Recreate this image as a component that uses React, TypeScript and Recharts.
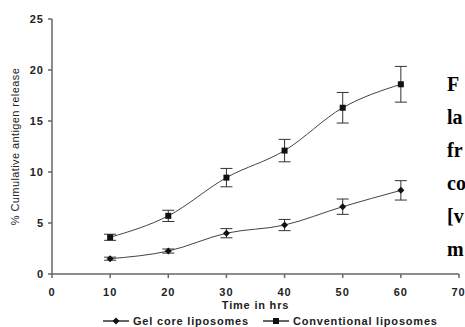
import React from 'react';
import { LineChart, Line, XAxis, YAxis, ErrorBar, Legend, Label } from 'recharts';

const times = [10, 20, 30, 40, 50, 60];
const gelRelease = [1.5, 2.25, 4.0, 4.8, 6.6, 8.2];
const gelSd = [0.15, 0.2, 0.45, 0.55, 0.75, 0.95];
const convRelease = [3.6, 5.7, 9.45, 12.1, 16.3, 18.6];
const convSd = [0.3, 0.55, 0.9, 1.1, 1.5, 1.75];
const xTicks = [0, 10, 20, 30, 40, 50, 60, 70];
const yTicks = [0, 5, 10, 15, 20, 25];
const captionLines = ['F', 'la', 'fr', 'co', '[v', 'm'];

const data = times.map((t, i) => ({
    time: t,
    gel: gelRelease[i],
    gelErr: gelSd[i],
    conv: convRelease[i],
    convErr: convSd[i],
}));

const ink = '#222';
const tickStyle = { fontFamily: 'Arial, "Liberation Sans", sans-serif', fontSize: 11, fontWeight: 700, fill: ink, letterSpacing: 1 };

const DiamondDot = (props: any) => {
    const { cx, cy, index } = props;
    if (cx == null || cy == null) return <g key={'d' + index} />;
    return <path key={'d' + index} d={`M${cx},${cy - 3.5}L${cx + 3.5},${cy}L${cx},${cy + 3.5}L${cx - 3.5},${cy}Z`} fill="#111" />;
};

const SquareDot = (props: any) => {
    const { cx, cy, index } = props;
    if (cx == null || cy == null) return <g key={'s' + index} />;
    return <rect key={'s' + index} x={cx - 3} y={cy - 3} width={6} height={6} fill="#111" />;
};

const LegendBox = () => (
    <div style={{ position: 'relative', width: 465, height: 12, fontFamily: 'Arial, "Liberation Sans", sans-serif', fontSize: 11, fontWeight: 700, color: ink, letterSpacing: 0.8, lineHeight: '12px' }}>
        <svg style={{ position: 'absolute', left: 103, top: 0 }} width={26} height={12}>
            <line x1={0} y1={6} x2={26} y2={6} stroke="#333" strokeWidth={1.5} />
            <path d="M13,2.5L16.5,6L13,9.5L9.5,6Z" fill="#111" />
        </svg>
        <span style={{ position: 'absolute', left: 133, top: 0, whiteSpace: 'nowrap' }}>Gel core liposomes</span>
        <svg style={{ position: 'absolute', left: 263, top: 0 }} width={26} height={12}>
            <line x1={0} y1={6} x2={26} y2={6} stroke="#333" strokeWidth={1.5} />
            <rect x={10} y={3} width={6} height={6} fill="#111" />
        </svg>
        <span style={{ position: 'absolute', left: 293, top: 0, whiteSpace: 'nowrap' }}>Conventional liposomes</span>
    </div>
);

const App = () => {
    return (
        <div style={{ position: 'absolute', left: 0, top: 0, width: 465, height: 327, overflow: 'hidden', background: '#fff' }}>
            <LineChart width={465} height={327} data={data} margin={{ top: 19, right: 6, left: 0, bottom: 0 }}>
                <XAxis
                    dataKey="time"
                    type="number"
                    domain={[0, 70]}
                    ticks={xTicks}
                    height={41}
                    tickSize={4}
                    tickMargin={10}
                    stroke="#666"
                    strokeWidth={1.5}
                    tick={tickStyle}
                >
                    <Label value="Time in hrs" position="insideBottom" offset={6} style={{ ...tickStyle, textAnchor: 'middle', letterSpacing: 0.8 }} />
                </XAxis>
                <YAxis
                    domain={[0, 25]}
                    ticks={yTicks}
                    width={52}
                    tickSize={4}
                    tickMargin={4}
                    stroke="#666"
                    strokeWidth={1.5}
                    tick={tickStyle}
                >
                    <Label
                        value="% Cumulative antigen release"
                        angle={-90}
                        position="insideLeft"
                        offset={15}
                        style={{ textAnchor: 'middle', fontFamily: 'Arial, "Liberation Sans", sans-serif', fontSize: 11, fill: ink, letterSpacing: 0.4 }}
                    />
                </YAxis>
                <Legend verticalAlign="bottom" width={465} height={12} wrapperStyle={{ height: 12 }} content={() => <LegendBox />} />
                <Line type="monotone" dataKey="gel" stroke="#444" strokeWidth={1} dot={DiamondDot} isAnimationActive={false}>
                    <ErrorBar dataKey="gelErr" width={6} stroke="#333" strokeWidth={1} direction="y" />
                </Line>
                <Line type="monotone" dataKey="conv" stroke="#444" strokeWidth={1} dot={SquareDot} isAnimationActive={false}>
                    <ErrorBar dataKey="convErr" width={6} stroke="#333" strokeWidth={1} direction="y" />
                </Line>
            </LineChart>
            <div style={{ position: 'absolute', left: 447, top: 68, fontFamily: '"Liberation Serif", "Times New Roman", serif', fontWeight: 700, fontSize: 20, lineHeight: '33px', color: '#000', whiteSpace: 'pre' }}>
                {captionLines.map((s) => (
                    <div key={s}>{s}</div>
                ))}
            </div>
        </div>
    );
};

export default App;
